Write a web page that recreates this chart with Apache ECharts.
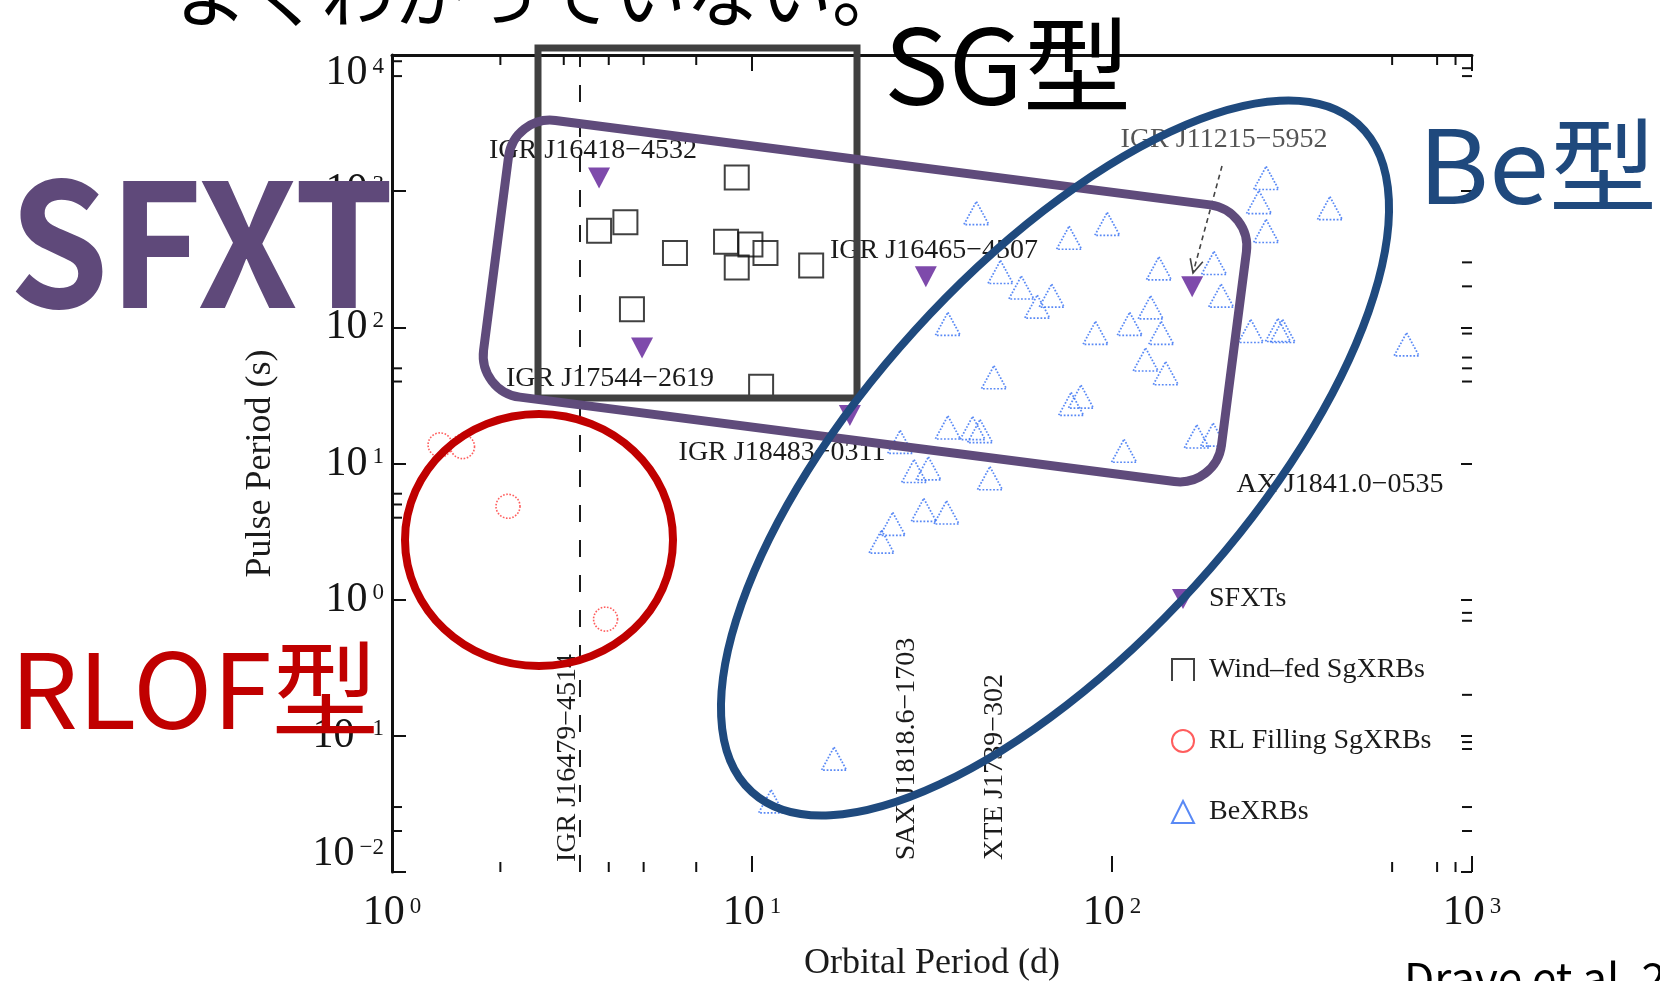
<!DOCTYPE html>
<html>
<head>
<meta charset="utf-8">
<script src="https://cdn.jsdelivr.net/npm/echarts@6/dist/echarts.min.js"></script>
<style>
  html, body { margin: 0; padding: 0; background: #fff; }
  #chart { width: 1660px; height: 981px; }
</style>
</head>
<body>
<div id="chart"></div>
<script>
// Corbet diagram: orbital period (d) against pulse period (s) for HMXB classes.

// [orbital period (d), pulse period (s)]
const sfxtData = [[3.76, 1250], [4.95, 70.5], [30.4, 235], [18.7, 22.5], [167, 199]];
const windFedData = [
  [9.07, 1262], [3.76, 511], [4.45, 592], [6.11, 352], [8.47, 426], [9.9, 406],
  [9.07, 275], [10.9, 352], [14.6, 284], [4.64, 136], [10.6, 36.6]
];
const rlFillingData = [[1.36, 13.7], [1.57, 13.3], [2.1, 4.85], [3.92, 0.72]];
const beXrbData = [
  [42, 690], [97, 575], [76, 455], [49, 255], [56, 196], [68, 171], [62, 142], [35, 106],
  [135, 271], [192, 297], [201, 171], [128, 140], [112, 106], [90, 91], [137, 91], [124, 58],
  [141, 46], [47, 43], [82, 31], [77, 27.4], [35, 18.4], [41, 18.2], [43, 17.3], [108, 12.4],
  [172, 15.8], [191, 16.3], [268, 1250], [256, 830], [268, 510], [403, 750], [243, 94],
  [289, 95.5], [298, 94], [658, 75], [25.8, 14.4], [28.2, 8.8], [30.9, 9.2], [45.8, 7.8],
  [30.0, 4.56], [34.7, 4.37], [24.6, 3.6], [22.9, 2.67], [16.9, 0.068], [11.3, 0.033]
];
// orbital period of IGR J16479-4514 (no pulse period), drawn as a dashed line
const igrJ16479Orbit = 3.32;

// decade exponents of the axis ticks
const xTickExponents = [0, 1, 2, 3];
const yTickExponents = [-2, -1, 0, 1, 2, 3, 4];

// minor ticks on each side of the frame
const bottomMinorTicks = [2, 4, 5, 7, 600, 800, 900];
const topMinorTicks = [2, 3, 4, 5, 7, 600, 800, 900];
const leftMinorTicks = [9000, 7000, 50, 40, 6, 5, 4, 0.03, 0.02];
const rightMinorTicks = [8000, 7000, 300, 200, 90, 60, 50, 40, 0.8, 0.7, 0.2, 0.09, 0.08, 0.03, 0.02];

const SERIF = '"Liberation Serif", "DejaVu Serif", serif';
const JP = '"Noto Sans CJK JP", "Noto Sans", sans-serif';

const xMin = Math.pow(10, xTickExponents[0]);
const xMax = Math.pow(10, xTickExponents[xTickExponents.length - 1]);
const yMin = Math.pow(10, yTickExponents[0]);
const yMax = Math.pow(10, yTickExponents[yTickExponents.length - 1]);

const tickData = [].concat(
  bottomMinorTicks.map(v => [v, yMin, 0]),
  topMinorTicks.map(v => [v, yMax, 1]),
  leftMinorTicks.map(v => [xMin, v, 2]),
  rightMinorTicks.map(v => [xMax, v, 3])
);

function powerLabel(v) {
  const e = Math.round(Math.log10(v));
  const s = e < 0 ? '\u2212' + (-e) : String(e);
  return '{b|10}{s|' + s + '}';
}
const tickRich = {
  b: { fontFamily: SERIF, fontSize: 42, lineHeight: 36, color: '#151515' },
  s: { fontFamily: SERIF, fontSize: 23, lineHeight: 20, verticalAlign: 'top', color: '#151515', padding: [0, 0, 0, 5] }
};
const tickLine = { color: '#111', width: 2 };

function renderMinorTick(params, api) {
  const p = api.coord([api.value(0), api.value(1)]);
  const side = api.value(2);
  const len = 10;
  let x2 = p[0], y2 = p[1];
  if (side === 0) y2 -= len;
  else if (side === 1) y2 += len;
  else if (side === 2) x2 += len;
  else x2 -= len;
  return { type: 'line', shape: { x1: p[0], y1: p[1], x2: x2, y2: y2 }, style: { stroke: '#111', lineWidth: 2 } };
}

function label(text, x, y, opts, color) {
  return Object.assign({
    type: 'text', x: x, y: y, z: 50, silent: true,
    style: { text: text, fontFamily: SERIF, fontSize: 28, fill: color || '#1b1b1b', align: 'center', verticalAlign: 'middle' }
  }, opts || {});
}

function bigText(text, x, y, size, color, weight, scaleX) {
  return {
    type: 'text', x: x, y: y, z: 200, silent: true, scaleX: scaleX || 1,
    style: { text: text, fontFamily: JP, fontSize: size, fontWeight: weight || 'normal', fill: color, align: 'left', verticalAlign: 'middle' }
  };
}

// dashed pointer from the IGR J11215-5952 label to its marker
const arrowFrom = [1222, 166], arrowTo = [1193, 273];
const ang = Math.atan2(arrowTo[1] - arrowFrom[1], arrowTo[0] - arrowFrom[0]);
const headLen = 15, headSpread = 0.45;
const headPts = [
  [arrowTo[0] - headLen * Math.cos(ang - headSpread), arrowTo[1] - headLen * Math.sin(ang - headSpread)],
  arrowTo,
  [arrowTo[0] - headLen * Math.cos(ang + headSpread), arrowTo[1] - headLen * Math.sin(ang + headSpread)]
];

const chart = echarts.init(document.getElementById('chart'), null, { renderer: 'canvas' });

chart.setOption({
  backgroundColor: '#ffffff',
  animation: false,
  grid: { left: 392, right: 188, top: 55, bottom: 109, containLabel: false, outerBoundsMode: 'none' },
  legend: {
    orient: 'vertical', left: 1166, top: 580,
    itemWidth: 22, itemHeight: 22, itemGap: 43,
    textStyle: { fontFamily: SERIF, fontSize: 28, color: '#1b1b1b', padding: [0, 0, 0, 10] },
    selectedMode: false,
    data: [
      { name: 'SFXTs', icon: 'path://M0,0 L20,0 L10,18 Z' },
      { name: 'Wind\u2013fed SgXRBs', icon: 'path://M0,22 L0,0 L22,0 L22,22', itemStyle: { color: 'rgba(0,0,0,0)', borderColor: '#111', borderWidth: 2 } },
      { name: 'RL Filling SgXRBs', icon: 'circle' },
      { name: 'BeXRBs', icon: 'triangle' }
    ]
  },
  xAxis: [
    {
      type: 'log', logBase: 10, min: xMin, max: xMax, position: 'bottom',
      name: 'Orbital Period (d)', nameLocation: 'middle', nameGap: 74,
      nameTextStyle: { fontFamily: SERIF, fontSize: 36, color: '#1b1b1b' },
      axisLine: { show: false, onZero: false },
      axisTick: { show: true, inside: true, length: 16, lineStyle: tickLine },
      axisLabel: { formatter: powerLabel, rich: tickRich, margin: 23 },
      splitLine: { show: false }
    },
    {
      type: 'log', logBase: 10, min: xMin, max: xMax, position: 'top',
      axisLine: { show: true, onZero: false, lineStyle: { color: '#111', width: 3 } },
      axisTick: { show: true, inside: true, length: 16, lineStyle: tickLine },
      axisLabel: { show: false },
      splitLine: { show: false }
    }
  ],
  yAxis: [
    {
      type: 'log', logBase: 10, min: yMin, max: yMax, position: 'left',
      name: 'Pulse Period (s)', nameLocation: 'middle', nameGap: 113,
      nameTextStyle: { fontFamily: SERIF, fontSize: 36, color: '#1b1b1b' },
      axisLine: { show: true, onZero: false, lineStyle: { color: '#111', width: 3 } },
      axisTick: { show: true, inside: true, length: 14, lineStyle: tickLine },
      axisLabel: {
        formatter: powerLabel, rich: tickRich, margin: 8,
        verticalAlignMinLabel: 'bottom', verticalAlignMaxLabel: 'top'
      },
      splitLine: { show: false }
    },
    {
      type: 'log', logBase: 10, min: yMin, max: yMax, position: 'right',
      axisLine: { show: false, onZero: false },
      axisTick: { show: true, inside: true, length: 11, lineStyle: tickLine },
      axisLabel: { show: false },
      splitLine: { show: false }
    }
  ],
  series: [
    {
      name: 'SFXTs', type: 'scatter', data: sfxtData, z: 5,
      symbol: 'triangle', symbolRotate: 180, symbolSize: [22, 21],
      itemStyle: { color: '#5e1d96' },
      markLine: {
        silent: true, symbol: 'none', animation: false,
        label: { show: false },
        lineStyle: { color: '#1b1b1b', width: 2, type: [17, 18] },
        data: [{ xAxis: igrJ16479Orbit }]
      }
    },
    {
      name: 'Wind\u2013fed SgXRBs', type: 'scatter', data: windFedData, z: 4,
      symbol: 'rect', symbolSize: 24,
      itemStyle: { color: 'rgba(0,0,0,0)', borderColor: '#111', borderWidth: 2 }
    },
    {
      name: 'RL Filling SgXRBs', type: 'scatter', data: rlFillingData, z: 4,
      symbol: 'circle', symbolSize: 24,
      itemStyle: { color: 'rgba(0,0,0,0)', borderColor: '#ff3535', borderWidth: 1.6, borderType: 'dotted' }
    },
    {
      name: 'BeXRBs', type: 'scatter', data: beXrbData, z: 4,
      symbol: 'triangle', symbolSize: [25, 23],
      itemStyle: { color: 'rgba(0,0,0,0)', borderColor: '#2f6bf2', borderWidth: 1.7, borderType: 'dotted' }
    },
    {
      name: 'minor ticks', type: 'custom', data: tickData, renderItem: renderMinorTick,
      clip: false, silent: true, z: 3
    }
  ],
  graphic: [
    // source names
    label('IGR J16418\u22124532', 593, 151),
    label('IGR J17544\u22122619', 610, 379),
    label('IGR J16465\u22124507', 934, 251),
    label('IGR J18483\u22120311', 782, 453),
    label('IGR J11215\u22125952', 1224, 140, null, '#555'),
    label('AX J1841.0\u22120535', 1340, 485),
    label('IGR J16479\u22124514', 568, 758, { rotation: Math.PI / 2 }),
    label('SAX J1818.6\u22121703', 907, 749, { rotation: Math.PI / 2 }),
    label('XTE J1739\u2212302', 995, 767, { rotation: Math.PI / 2 }),
    {
      type: 'line', z: 50, silent: true,
      shape: { x1: arrowFrom[0], y1: arrowFrom[1], x2: arrowTo[0], y2: arrowTo[1] },
      style: { stroke: '#444', lineWidth: 1.6, lineDash: [5, 4] }
    },
    {
      type: 'polyline', z: 50, silent: true,
      shape: { points: headPts },
      style: { stroke: '#444', lineWidth: 1.6, fill: 'none' }
    },
    // class groupings
    {
      type: 'rect', z: 100, silent: true,
      shape: { x: 538, y: 48, width: 319, height: 350 },
      style: { fill: 'none', stroke: '#404040', lineWidth: 7 }
    },
    {
      type: 'rect', z: 110, silent: true, x: 865, y: 301, rotation: -0.1283,
      shape: { x: -372, y: -139.5, width: 744, height: 279, r: 42 },
      style: { fill: 'none', stroke: '#5f4b7b', lineWidth: 9 }
    },
    {
      type: 'ellipse', z: 120, silent: true, x: 1055, y: 458, rotation: 0.834,
      shape: { cx: 0, cy: 0, rx: 451, ry: 189.5 },
      style: { fill: 'none', stroke: '#1f4a7e', lineWidth: 8 }
    },
    {
      type: 'ellipse', z: 120, silent: true,
      shape: { cx: 539, cy: 540, rx: 134, ry: 126 },
      style: { fill: 'none', stroke: '#c00000', lineWidth: 8 }
    },
    // slide captions
    bigText('よくわかっていない。', 175, -7, 73, '#000'),
    bigText('SG型', 884, 65, 104, '#000', 'normal', 1.04),
    bigText('Be型', 1418, 165, 102, '#1f497d', 'normal', 1.06),
    bigText('SFXT', 9, 243, 172, '#5f497a', 'bold', 0.93),
    bigText('RLOF型', 10, 689, 104, '#c00000', 'normal', 1.03),
    bigText('Drave et al. 2012', 1404, 978, 44, '#000')
  ]
});
</script>
</body>
</html>
